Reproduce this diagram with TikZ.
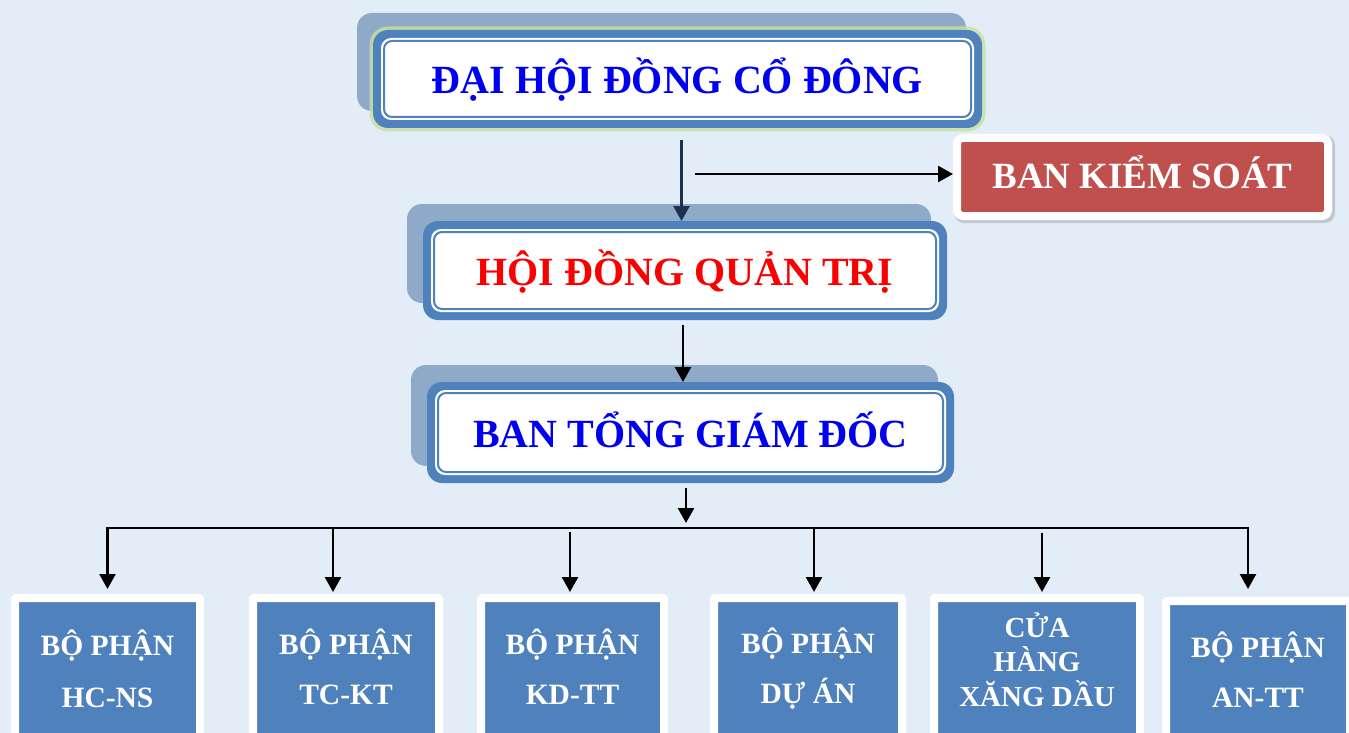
\documentclass[tikz,border=0pt]{standalone}
\usepackage{fontspec}
\setmainfont{Liberation Serif}
\usepackage{tikz}
\usepackage{xcolor}
\usetikzlibrary{positioning}
\usetikzlibrary{arrows.meta}
\usetikzlibrary{backgrounds}
\pgfdeclarelayer{background}
\pgfsetlayers{background,main}
\definecolor{pagecolor}{RGB}{226, 237, 247}
\definecolor{boxcolor}{RGB}{79, 129, 189}
\definecolor{shadowcolor}{RGB}{143, 169, 201}
\definecolor{glowcolor}{RGB}{198, 224, 160}
\definecolor{controlcolor}{RGB}{192, 80, 77}
\definecolor{bluetext}{RGB}{0, 0, 240}
\definecolor{redtext}{RGB}{250, 0, 0}
\definecolor{flowcolor}{RGB}{0, 0, 0}
\definecolor{topflowcolor}{RGB}{31, 50, 77}
\tikzstyle{tierbox} = [
    rectangle,
    rounded corners=15pt,
    fill=boxcolor,
    inner sep=0pt,
    outer sep=0pt,
    text height=30pt,
    text depth=0pt,
    font=\fontsize{40}{44}\selectfont\bfseries,
    path picture={
        \fill[white, rounded corners=10pt] ([shift={(8pt,8pt)}]path picture bounding box.south west) rectangle ([shift={(-8pt,-8pt)}]path picture bounding box.north east);
        \draw[boxcolor, line width=2pt, rounded corners=8pt] ([shift={(11pt,11pt)}]path picture bounding box.south west) rectangle ([shift={(-11pt,-11pt)}]path picture bounding box.north east);
    }
]
\tikzstyle{controlbox} = [
    rectangle,
    rounded corners=6pt,
    fill=controlcolor,
    draw=white,
    line width=8pt,
    inner sep=0pt,
    text=white,
    text height=22pt,
    text depth=0pt,
    font=\fontsize{37}{40}\selectfont\bfseries
]
\tikzstyle{deptbox} = [
    rectangle,
    rounded corners=1pt,
    fill=boxcolor,
    draw=white,
    line width=8pt,
    inner sep=0pt,
    align=center,
    text=white,
    anchor=north west,
    font=\fontsize{29.5}{50}\selectfont\bfseries
]
\tikzstyle{flow} = [-{Triangle[length=15pt, width=16pt]}, line width=2.5pt, flowcolor]

\begin{document}
\begin{tikzpicture}[x=1pt, y=1pt]
	\useasboundingbox (0, 0) rectangle (1349, -733);

	%
	% Upper tiers

	% Maps
	\node[tierbox, text=bluetext, minimum width=609pt, minimum height=98pt] (dhcd) at (677.5, -79) {ĐẠI HỘI ĐỒNG CỔ ĐÔNG};
	\node[tierbox, text=redtext, below=93pt of dhcd, xshift=7.5pt, minimum width=524pt, minimum height=99pt] (hdqt) {HỘI ĐỒNG QUẢN TRỊ};
	\node[tierbox, text=bluetext, below=62pt of hdqt, xshift=5.5pt, minimum width=527pt, minimum height=101pt] (btgd) {BAN TỔNG GIÁM ĐỐC};
	\node[controlbox, minimum width=371pt, minimum height=78pt] (bks) at (1142.5, -177) {BAN KIỂM SOÁT};

	% Arrows
	\draw[flow, topflowcolor] ([xshift=4pt, yshift=-12pt]dhcd.south) -- ([xshift=-3.5pt]hdqt.north);
	\draw[flow] ([xshift=10pt, yshift=3pt]hdqt.north |- bks.west) -- ([yshift=3pt]bks.west);
	\draw[flow] ([xshift=-2pt, yshift=-5pt]hdqt.south) -- ([xshift=-7.5pt]btgd.north);

	%
	% Departments

	% Maps
	\node[deptbox, anchor=north, minimum width=185pt, minimum height=166pt] (hcns) at (107.5, -594) {\smash{BỘ PHẬN}\\[2pt]\smash{HC-NS}};
	\node[deptbox, right=45pt of hcns.north east, anchor=north west, minimum width=186pt, minimum height=163pt] (tckt) {\smash{BỘ PHẬN}\\\smash{TC-KT}};
	\node[deptbox, right=34pt of tckt.north east, anchor=north west, minimum width=183pt, minimum height=163pt] (kdtt) {\smash{BỘ PHẬN}\\\smash{KD-TT}};
	\node[deptbox, right=42pt of kdtt.north east, anchor=north west, minimum width=188pt, minimum height=161pt] (duan) {\smash{BỘ PHẬN}\\\smash{DỰ ÁN}};
	\node[deptbox, right=24pt of duan.north east, anchor=north west, minimum width=206pt, minimum height=147pt, font=\fontsize{29}{34.5}\selectfont\bfseries] (cuahang) {\smash{CỬA}\\\smash{HÀNG}\\\smash{XĂNG DẦU}};
	\node[deptbox, right=18pt of cuahang.north east, anchor=north west, yshift=-3pt, minimum width=184pt, minimum height=162pt] (antt) {\smash{BỘ PHẬN}\\\smash{AN-TT}};

	% Arrows
	\coordinate[below=45pt of btgd.south, xshift=-4.5pt] (bus);
	\draw[flow] ([xshift=-4.5pt, yshift=-5pt]btgd.south) -- ([yshift=5pt]bus);
	\draw[flow] (bus) -| ([yshift=5pt]hcns.north);
	\draw[flow] (bus) -| ([xshift=-10pt, yshift=8pt]antt.north);
	\foreach \dept/\dx/\gap in {tckt/-13/0, kdtt/-2.5/4, duan/6/0, cuahang/5/5}
		\draw[flow] ([xshift=\dx pt, yshift=-\gap pt]bus -| \dept.north) -- ([xshift=\dx pt, yshift=2pt]\dept.north);

	%
	% Backdrop and shadows
	\begin{scope}[on background layer]
		\fill[pagecolor] (0, 0) rectangle (1349, -733);
		\foreach \tier in {dhcd, hdqt, btgd}
			\fill[shadowcolor, rounded corners=15pt] ([shift={(-16pt,17pt)}]\tier.south west) rectangle ([shift={(-16pt,17pt)}]\tier.north east);
		\draw[glowcolor, line width=7pt, rounded corners=15pt, opacity=0.8] (dhcd.south west) rectangle (dhcd.north east);
		\fill[black, opacity=0.15, rounded corners=10pt] ([shift={(1pt,-3pt)}]bks.south west) rectangle ([shift={(3pt,-1pt)}]bks.north east);
	\end{scope}

\end{tikzpicture}
\end{document}
